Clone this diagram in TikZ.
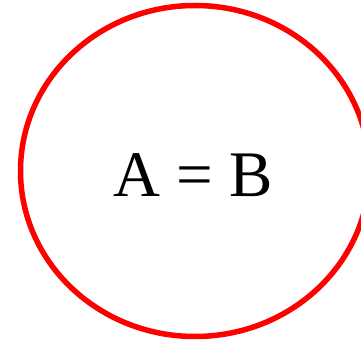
\documentclass[tikz,border=0pt]{standalone}
\usepackage{fontspec}
\setmainfont{Liberation Serif}
\begin{document}
\begin{tikzpicture}[x=1pt,y=1pt]
  \useasboundingbox (0,0) rectangle (361,342);
  \draw[red,line width=5.5pt] (195,171) ellipse (174.5 and 165.5);
  \node[anchor=base,inner sep=0pt,font=\fontsize{65}{78}\selectfont] (eq) at (193,145) {A = B};
\end{tikzpicture}
\end{document}
